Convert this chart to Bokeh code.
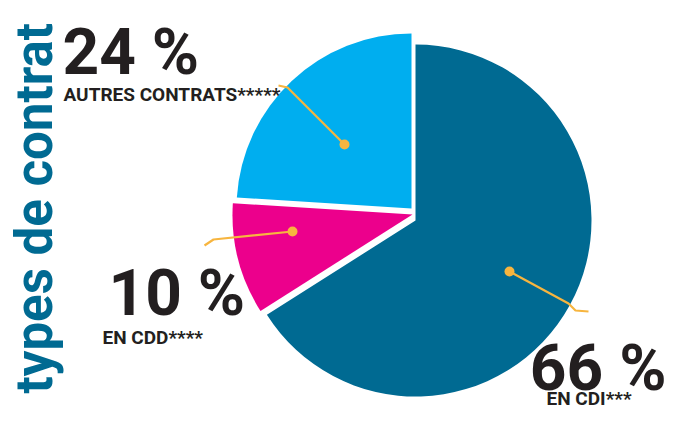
import math
from bokeh.plotting import figure
from bokeh.models import Range1d
from bokeh.core.properties import value
from bokeh.embed import file_html
from bokeh.resources import INLINE

# ---- data ----
categories = ["EN CDI***", "EN CDD****", "AUTRES CONTRATS*****"]
shares = [66, 10, 24]
pct_labels = ["66 %", "10 %", "24 %"]
title_text = "types de contrat"

# ---- styles / layout (screen pixel coordinates of the reference) ----
colors = ["#006a92", "#ec008c", "#00aeef"]
centers = [(415, 220), (412, 214), (411, 208)]
radii = [176, 180, 175]
dot_pos = [(509, 271), (292, 231), (344, 144)]
leader_paths = [
    [(509, 271), (568, 303), (575, 310), (588, 311)],
    [(292, 231), (213, 239), (204, 245)],
    [(344, 144), (287, 87), (278, 85)],
]
# anchor points (already corrected for the renderer's baseline offset)
pct_pos = [(666, 368, "right"), (108, 293, "left"), (62, 52, "left")]
cat_pos = [(546, 398), (102, 337), (63, 94)]

W, H = 667, 413
def Y(ys):
    return 421 - ys

p = figure(width=W, height=H, output_backend="svg", toolbar_location=None,
           x_range=Range1d(0, W), y_range=Range1d(421 - H, 421), min_border=0)
p.axis.visible = False
p.grid.visible = False
p.outline_line_color = None
p.background_fill_color = "white"

# pie: start at 12 o'clock, go clockwise
total = sum(shares)
start = 90.0
for i, s in enumerate(shares):
    end = start - s / total * 360.0
    cx, cy = centers[i]
    p.wedge(x=cx, y=Y(cy), radius=radii[i],
            start_angle=math.radians(end), end_angle=math.radians(start),
            direction="anticlock", fill_color=colors[i], line_color=None)
    start = end

# leader lines and dots
for path, d in zip(leader_paths, dot_pos):
    p.line([q[0] for q in path], [Y(q[1]) for q in path],
           line_color="#f7b53f", line_width=2.2)
    p.scatter([d[0]], [Y(d[1])], size=10, fill_color="#f7b53f", line_color=None)

font = value("Roboto")
for i in range(3):
    px, py, al = pct_pos[i]
    p.text([px], [Y(py)], text=[pct_labels[i]], text_font=font,
           text_font_size="64px", text_font_style="bold", text_color="#231f20",
           text_align=al, text_baseline="alphabetic")
    qx, qy = cat_pos[i]
    p.text([qx], [Y(qy)], text=[categories[i]], text_font=font,
           text_font_size="19px", text_font_style="bold", text_color="#231f20",
           text_align="left", text_baseline="alphabetic")

p.text([34], [Y(393)], text=[title_text], angle=math.pi / 2,
       text_font=value("Roboto"), text_font_size="51px", text_font_style="bold",
       text_color="#006a92", text_align="left", text_baseline="alphabetic")

open("out.html", "w").write(file_html(p, INLINE))
